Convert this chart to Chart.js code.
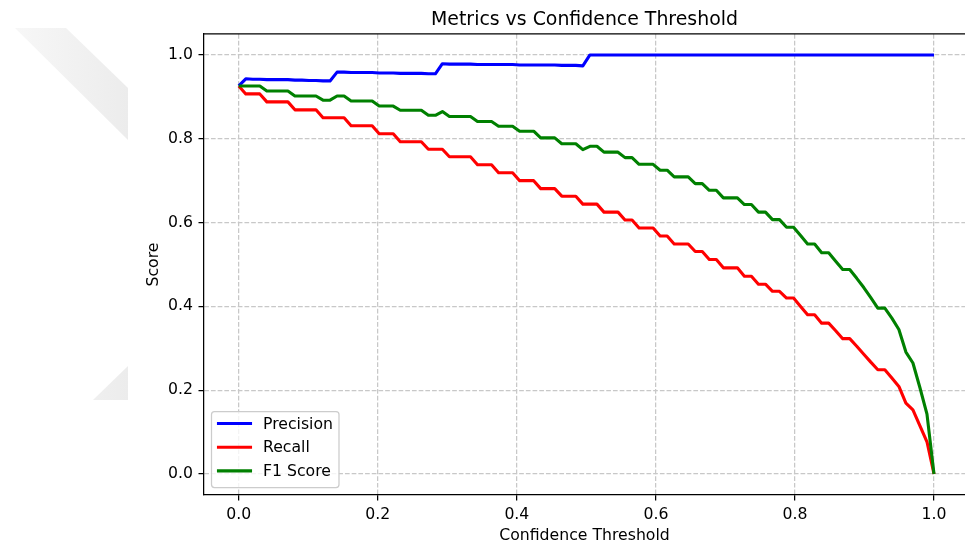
<!DOCTYPE html>
<html>
<head>
<meta charset="utf-8">
<title>Metrics vs Confidence Threshold</title>
<script src="https://cdn.jsdelivr.net/npm/chart.js@4.4.1/dist/chart.umd.min.js"></script>
<style>
	body { margin: 0; background: #fff; }
	#wrap { width: 965px; height: 546px; }
</style>
</head>
<body>
<div id="wrap"><canvas id="myChart" width="965" height="546"></canvas></div>
<script>
// thresholds (100 steps from 0 to 1)
var thresholds = [0, 0.0101, 0.0202, 0.0303, 0.0404, 0.0505, 0.0606, 0.0707, 0.0808, 0.0909,
	0.1010, 0.1111, 0.1212, 0.1313, 0.1414, 0.1515, 0.1616, 0.1717, 0.1818, 0.1919,
	0.2020, 0.2121, 0.2222, 0.2323, 0.2424, 0.2525, 0.2626, 0.2727, 0.2828, 0.2929,
	0.3030, 0.3131, 0.3232, 0.3333, 0.3434, 0.3535, 0.3636, 0.3737, 0.3838, 0.3939,
	0.4040, 0.4141, 0.4242, 0.4343, 0.4444, 0.4545, 0.4646, 0.4747, 0.4848, 0.4949,
	0.5051, 0.5152, 0.5253, 0.5354, 0.5455, 0.5556, 0.5657, 0.5758, 0.5859, 0.5960,
	0.6061, 0.6162, 0.6263, 0.6364, 0.6465, 0.6566, 0.6667, 0.6768, 0.6869, 0.6970,
	0.7071, 0.7172, 0.7273, 0.7374, 0.7475, 0.7576, 0.7677, 0.7778, 0.7879, 0.7980,
	0.8081, 0.8182, 0.8283, 0.8384, 0.8485, 0.8586, 0.8687, 0.8788, 0.8889, 0.8990,
	0.9091, 0.9192, 0.9293, 0.9394, 0.9495, 0.9596, 0.9697, 0.9798, 0.9899, 1];

var precision = [0.926, 0.943, 0.942, 0.942, 0.941, 0.941, 0.941, 0.941, 0.940, 0.940,
	0.939, 0.939, 0.938, 0.938, 0.959, 0.959, 0.958, 0.958, 0.958, 0.958,
	0.957, 0.957, 0.957, 0.956, 0.956, 0.956, 0.956, 0.955, 0.955, 0.979,
	0.978, 0.978, 0.978, 0.978, 0.977, 0.977, 0.977, 0.977, 0.977, 0.977,
	0.976, 0.976, 0.976, 0.976, 0.976, 0.976, 0.975, 0.975, 0.975, 0.974,
	1, 1, 1, 1, 1, 1, 1, 1, 1, 1,
	1, 1, 1, 1, 1, 1, 1, 1, 1, 1,
	1, 1, 1, 1, 1, 1, 1, 1, 1, 1,
	1, 1, 1, 1, 1, 1, 1, 1, 1, 1,
	1, 1, 1, 1, 1, 1, 1, 1, 1, 1];

var recall = [0.926, 0.907, 0.907, 0.907, 0.888, 0.888, 0.888, 0.888, 0.869, 0.869,
	0.869, 0.869, 0.850, 0.850, 0.850, 0.850, 0.831, 0.831, 0.831, 0.831,
	0.812, 0.812, 0.812, 0.793, 0.793, 0.793, 0.793, 0.775, 0.775, 0.775,
	0.757, 0.757, 0.757, 0.757, 0.738, 0.738, 0.738, 0.719, 0.719, 0.719,
	0.700, 0.700, 0.700, 0.681, 0.681, 0.681, 0.663, 0.663, 0.663, 0.644,
	0.644, 0.644, 0.625, 0.625, 0.625, 0.606, 0.606, 0.587, 0.587, 0.587,
	0.568, 0.568, 0.549, 0.549, 0.549, 0.531, 0.531, 0.512, 0.512, 0.492,
	0.492, 0.492, 0.472, 0.472, 0.453, 0.453, 0.436, 0.436, 0.420, 0.420,
	0.400, 0.380, 0.380, 0.360, 0.360, 0.342, 0.323, 0.323, 0.305, 0.286,
	0.267, 0.249, 0.249, 0.229, 0.209, 0.169, 0.153, 0.115, 0.077, 0];

var f1Score = [0.926, 0.926, 0.926, 0.926, 0.914, 0.914, 0.914, 0.914, 0.902, 0.902,
	0.902, 0.902, 0.892, 0.892, 0.902, 0.902, 0.890, 0.890, 0.890, 0.890,
	0.878, 0.878, 0.878, 0.868, 0.868, 0.868, 0.868, 0.856, 0.856, 0.865,
	0.853, 0.853, 0.853, 0.853, 0.841, 0.841, 0.841, 0.830, 0.830, 0.830,
	0.818, 0.818, 0.818, 0.802, 0.802, 0.802, 0.788, 0.788, 0.788, 0.774,
	0.782, 0.782, 0.768, 0.768, 0.768, 0.755, 0.755, 0.739, 0.739, 0.739,
	0.725, 0.725, 0.709, 0.709, 0.709, 0.693, 0.693, 0.677, 0.677, 0.659,
	0.659, 0.659, 0.643, 0.643, 0.625, 0.625, 0.607, 0.607, 0.589, 0.589,
	0.569, 0.549, 0.549, 0.528, 0.528, 0.508, 0.488, 0.488, 0.467, 0.445,
	0.421, 0.396, 0.396, 0.372, 0.345, 0.291, 0.265, 0.206, 0.143, 0];

var xTickValues = [0, 0.2, 0.4, 0.6, 0.8, 1.0];
var yTickValues = [0, 0.2, 0.4, 0.6, 0.8, 1.0];
var seriesNames = ['Precision', 'Recall', 'F1 Score'];
var seriesColors = ['#0000ff', '#ff0000', '#008000'];

var FONT = 'DejaVu Sans';
var ctx = document.getElementById('myChart');

function toPoints(values) {
	var pts = [];
	for (var i = 0; i < thresholds.length; i++) {
		pts.push({ x: thresholds[i], y: values[i] });
	}
	return pts;
}

function makeDataset(idx, values) {
	return {
		label: seriesNames[idx],
		data: toPoints(values),
		borderColor: seriesColors[idx],
		backgroundColor: seriesColors[idx],
		borderWidth: 3.1,
		borderJoinStyle: 'round',
		pointRadius: 0,
		tension: 0,
		fill: false,
		order: 3 - idx
	};
}

// watermark, top spine and the legend box inside the axes
var extras = {
	id: 'extras',
	beforeDraw: function(chart) {
		var c = chart.ctx;
		c.save();
		var g = c.createLinearGradient(15, 0, 128, 0);
		g.addColorStop(0, '#f7f7f7');
		g.addColorStop(1, '#ececec');
		c.fillStyle = g;
		c.beginPath();
		c.moveTo(15, 28); c.lineTo(66, 28); c.lineTo(128, 88); c.lineTo(128, 140);
		c.closePath();
		c.fill();
		c.beginPath();
		c.moveTo(93, 400); c.lineTo(128, 366); c.lineTo(128, 400);
		c.closePath();
		c.fill();
		c.restore();
	},
	afterDraw: function(chart) {
		var c = chart.ctx;
		var a = chart.chartArea;
		c.save();
		c.strokeStyle = '#000';
		c.lineWidth = 1.25;
		c.beginPath();
		c.moveTo(a.left, a.top);
		c.lineTo(a.right, a.top);
		c.stroke();

		// legend
		c.font = '15.7px "' + FONT + '"';
		var maxW = 0;
		chart.data.datasets.forEach(function(ds) {
			maxW = Math.max(maxW, c.measureText(ds.label).width);
		});
		var bx = a.left + 7.5;
		var bw = 51.5 + maxW + 6;
		var bh = 76;
		var by = a.bottom - 7.5 - bh;
		c.beginPath();
		c.roundRect(bx, by, bw, bh, 3);
		c.fillStyle = 'rgba(255,255,255,0.8)';
		c.fill();
		c.strokeStyle = '#cccccc';
		c.lineWidth = 1.25;
		c.stroke();
		c.textBaseline = 'middle';
		c.textAlign = 'left';
		chart.data.datasets.forEach(function(ds, i) {
			var ry = by + 12 + i * 23.7;
			c.strokeStyle = ds.borderColor;
			c.lineWidth = 3.1;
			c.lineCap = 'square';
			c.beginPath();
			c.moveTo(bx + 7, ry);
			c.lineTo(bx + 39, ry);
			c.stroke();
			c.fillStyle = '#000';
			c.fillText(ds.label, bx + 51.5, ry + 1);
		});
		c.restore();
	}
};

function axisOptions(tickValues, min, max, titleText, titlePadding) {
	return {
		type: 'linear',
		min: min,
		max: max,
		afterBuildTicks: function(axis) {
			axis.ticks = tickValues.map(function(v) { return { value: v }; });
		},
		ticks: {
			color: '#000',
			font: { family: FONT, size: 15.7 },
			padding: 5.5,
			callback: function(v) { return Number(v).toFixed(1); }
		},
		grid: {
			color: '#c8c8c8',
			lineWidth: 1.25,
			tickColor: '#000',
			tickLength: 5.5,
			tickWidth: 1.25,
			tickBorderDash: []
		},
		border: {
			display: true,
			color: '#000',
			width: 1.25,
			dash: [4.7, 2]
		},
		title: {
			display: true,
			text: titleText,
			color: '#000',
			font: { family: FONT, size: 15.7 },
			padding: titlePadding
		}
	};
}

var xAxis = axisOptions(xTickValues, -0.05, 1.0446, 'Confidence Threshold', { top: 0, bottom: 1 });
xAxis.afterFit = function(axis) { axis.height = 51; };
var yAxis = axisOptions(yTickValues, -0.05, 1.05, 'Score', { top: 14.2, bottom: 0 });
yAxis.afterFit = function(axis) { axis.width = 74; };

window.myChart = new Chart(ctx, {
	type: 'line',
	data: {
		datasets: [
			makeDataset(0, precision),
			makeDataset(1, recall),
			makeDataset(2, f1Score)
		]
	},
	options: {
		responsive: false,
		animation: false,
		devicePixelRatio: 1,
		events: [],
		layout: { padding: { left: 130, right: 0, top: 0, bottom: 0 } },
		plugins: {
			legend: { display: false },
			tooltip: { enabled: false },
			title: {
				display: true,
				text: 'Metrics vs Confidence Threshold',
				fullSize: false,
				color: '#000',
				font: { family: FONT, size: 18.9, weight: 'normal' },
				padding: { top: 8.6, bottom: 2.7 }
			}
		},
		scales: {
			x: xAxis,
			y: yAxis
		}
	},
	plugins: [extras]
});
</script>
</body>
</html>
